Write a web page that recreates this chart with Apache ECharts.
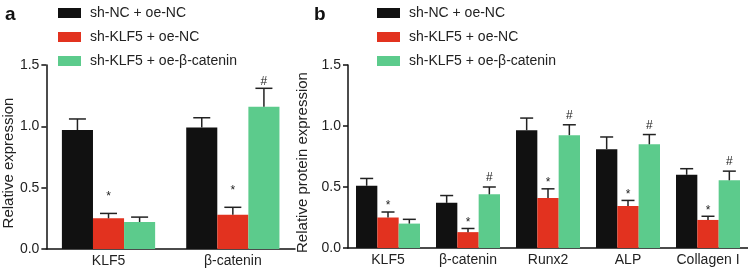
<!DOCTYPE html>
<html>
<head>
<meta charset="utf-8">
<script src="https://cdn.jsdelivr.net/npm/echarts@6/dist/echarts.min.js"></script>
<style>
  html, body { margin: 0; padding: 0; background: #fff; }
  #chart { width: 748px; height: 269px; }
</style>
</head>
<body>
<div id="chart"></div>
<script>
// group names (legend)
var groups = ['sh-NC + oe-NC', 'sh-KLF5 + oe-NC', 'sh-KLF5 + oe-β-catenin']
var colors = ['#111111', '#e2321f', '#5ccb8c']

// panel a: relative expression
var catsA = ['KLF5', 'β-catenin']
var aCtrl = [0.97, 0.99]
var aCtrlErr = [0.09, 0.08]
var aKd = [0.25, 0.28]
var aKdErr = [0.04, 0.06]
var aRescue = [0.22, 1.16]
var aRescueErr = [0.04, 0.15]
var aKdSig = ['*', '*']
var aRescueSig = ['', '#']

// panel b: relative protein expression
var catsB = ['KLF5', 'β-catenin', 'Runx2', 'ALP', 'Collagen I']
var bCtrl = [0.51, 0.37, 0.965, 0.81, 0.60]
var bCtrlErr = [0.06, 0.06, 0.10, 0.10, 0.05]
var bKd = [0.25, 0.13, 0.41, 0.345, 0.23]
var bKdErr = [0.045, 0.03, 0.075, 0.045, 0.03]
var bRescue = [0.20, 0.44, 0.925, 0.85, 0.555]
var bRescueErr = [0.035, 0.06, 0.085, 0.08, 0.075]
var bKdSig = ['*', '*', '*', '*', '*']
var bRescueSig = ['', '#', '#', '#', '#']

var yTicks = [0, 0.5, 1.0, 1.5]

var font = 'Liberation Sans, Arial, sans-serif'
var textColor = '#222'

// gap between error cap and the significance mark, per panel
var sigLiftA = { '*': 10, '#': 0 }
var sigLiftB = { '*': -1, '#': 2 }

var chart = echarts.init(document.getElementById('chart'))

function barSeries(name, vals, color, axis, gap) {
  return {
    name: name,
    type: 'bar',
    xAxisIndex: axis,
    yAxisIndex: axis,
    barGap: '0%',
    barCategoryGap: gap,
    itemStyle: { color: color },
    data: vals,
    z: 2
  }
}

function errSeries(vals, errs, sigs, k, axis, gapFrac, cap, lift) {
  var data = vals.map(function (v, i) {
    return [i, v, errs[i], sigs ? sigs[i] : '']
  })
  return {
    name: 'err' + axis + k,
    type: 'custom',
    xAxisIndex: axis,
    yAxisIndex: axis,
    z: 5,
    silent: true,
    encode: { x: 0, y: 1 },
    data: data,
    renderItem: function (params, api) {
      var i = api.value(0)
      var base = api.coord([i, api.value(1)])
      var top = api.coord([i, api.value(1) + api.value(2)])
      var band = api.size([1, 0])[0]
      var bw = band * (1 - gapFrac) / 3
      var x = base[0] + (k - 1) * bw
      var sig = data[params.dataIndex][3]
      var style = { stroke: '#222', lineWidth: 1.5 }
      var children = [
        { type: 'line', shape: { x1: x, y1: base[1], x2: x, y2: top[1] }, style: style },
        { type: 'line', shape: { x1: x - cap / 2, y1: top[1], x2: x + cap / 2, y2: top[1] }, style: style }
      ]
      if (sig) {
        children.push({
          type: 'text',
          style: {
            text: sig, x: x, y: top[1] - 1 - lift[sig],
            align: 'center', verticalAlign: 'bottom',
            fontSize: 12, fontFamily: font, fill: '#222'
          }
        })
      }
      return { type: 'group', children: children }
    }
  }
}

function yAxis(grid, name, gap) {
  return {
    type: 'value',
    gridIndex: grid,
    min: 0,
    max: 1.5,
    interval: 0.5,
    name: name,
    nameLocation: 'middle',
    nameGap: gap,
    nameTextStyle: { fontSize: 15, color: textColor, fontFamily: font, padding: [0, 12, 0, 0] },
    axisLine: { show: true, lineStyle: { color: '#111', width: 1.5 } },
    axisTick: { show: true, length: 5, lineStyle: { color: '#111', width: 1.5 } },
    axisLabel: {
      fontSize: 14, color: textColor, fontFamily: font, margin: 7,
      formatter: function (v) { return yTicks.indexOf(v) >= 0 ? v.toFixed(1) : '' }
    },
    splitLine: { show: false }
  }
}

function xAxis(grid, cats) {
  return {
    type: 'category',
    gridIndex: grid,
    data: cats,
    axisLine: { lineStyle: { color: '#111', width: 1.5 } },
    axisTick: { show: false },
    axisLabel: { interval: 0, fontSize: 14, color: textColor, fontFamily: font, margin: 5 }
  }
}

function legend(left) {
  return {
    data: groups,
    orient: 'vertical',
    left: left,
    top: 1,
    icon: 'rect',
    itemWidth: 23,
    itemHeight: 10,
    itemGap: 10,
    selectedMode: false,
    textStyle: { fontSize: 14, color: textColor, fontFamily: font, padding: [0, 0, 0, 4] }
  }
}

chart.setOption({
  animation: false,
  textStyle: { fontFamily: font },
  title: [
    { text: 'a', left: 0, top: 0, textStyle: { fontSize: 19, fontWeight: 'bold', color: '#111' } },
    { text: 'b', left: 309, top: 0, textStyle: { fontSize: 19, fontWeight: 'bold', color: '#111' } }
  ],
  legend: [legend(53), legend(372)],
  grid: [
    { left: 46, right: 453, top: 65, bottom: 20 },
    { left: 348, right: 0, top: 65, bottom: 21 }
  ],
  xAxis: [xAxis(0, catsA), xAxis(1, catsB)],
  yAxis: [yAxis(0, 'Relative expression', 29), yAxis(1, 'Relative protein expression', 32)],
  series: [
    barSeries(groups[0], aCtrl, colors[0], 0, '25%'),
    barSeries(groups[1], aKd, colors[1], 0, '25%'),
    barSeries(groups[2], aRescue, colors[2], 0, '25%'),
    errSeries(aCtrl, aCtrlErr, null, 0, 0, 0.25, 17, sigLiftA),
    errSeries(aKd, aKdErr, aKdSig, 1, 0, 0.25, 17, sigLiftA),
    errSeries(aRescue, aRescueErr, aRescueSig, 2, 0, 0.25, 17, sigLiftA),
    barSeries(groups[0], bCtrl, colors[0], 1, '20%'),
    barSeries(groups[1], bKd, colors[1], 1, '20%'),
    barSeries(groups[2], bRescue, colors[2], 1, '20%'),
    errSeries(bCtrl, bCtrlErr, null, 0, 1, 0.20, 13, sigLiftB),
    errSeries(bKd, bKdErr, bKdSig, 1, 1, 0.20, 13, sigLiftB),
    errSeries(bRescue, bRescueErr, bRescueSig, 2, 1, 0.20, 13, sigLiftB)
  ]
})
</script>
</body>
</html>
